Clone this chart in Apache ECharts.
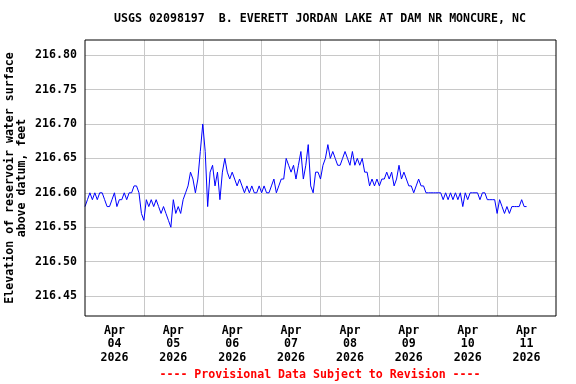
<!DOCTYPE html>
<html>
<head>
<meta charset="utf-8">
<script src="https://cdn.jsdelivr.net/npm/echarts@6/dist/echarts.min.js"></script>
<style>html,body{margin:0;padding:0;background:#fff}#c{width:576px;height:384px}</style>
</head>
<body>
<div id="c"></div>
<script>
// Hourly gage-height values (ft) starting Apr 04 2026 00:00
const elevation = [
  // Apr 04
  216.58,216.59,216.60,216.59,216.60,216.59,216.60,216.60,216.59,216.58,216.58,216.59,
  216.60,216.58,216.59,216.59,216.60,216.59,216.60,216.60,216.61,216.61,216.60,216.57,
  // Apr 05
  216.56,216.59,216.58,216.59,216.58,216.59,216.58,216.57,216.58,216.57,216.56,216.55,
  216.59,216.57,216.58,216.57,216.59,216.60,216.61,216.63,216.62,216.60,216.62,216.66,
  // Apr 06
  216.70,216.66,216.58,216.63,216.64,216.61,216.63,216.59,216.63,216.65,216.63,216.62,
  216.63,216.62,216.61,216.62,216.61,216.60,216.61,216.60,216.61,216.60,216.60,216.61,
  // Apr 07
  216.60,216.61,216.60,216.60,216.61,216.62,216.60,216.61,216.62,216.62,216.65,216.64,
  216.63,216.64,216.62,216.64,216.66,216.62,216.64,216.67,216.61,216.60,216.63,216.63,
  // Apr 08
  216.62,216.64,216.65,216.67,216.65,216.66,216.65,216.64,216.64,216.65,216.66,216.65,
  216.64,216.66,216.64,216.65,216.64,216.65,216.63,216.63,216.61,216.62,216.61,216.62,
  // Apr 09
  216.61,216.62,216.62,216.63,216.62,216.63,216.61,216.62,216.64,216.62,216.63,216.62,
  216.61,216.61,216.60,216.61,216.62,216.61,216.61,216.60,216.60,216.60,216.60,216.60,
  // Apr 10
  216.60,216.60,216.59,216.60,216.59,216.60,216.59,216.60,216.59,216.60,216.58,216.60,
  216.59,216.60,216.60,216.60,216.60,216.59,216.60,216.60,216.59,216.59,216.59,216.59,
  // Apr 11
  216.57,216.59,216.58,216.57,216.58,216.57,216.58,216.58,216.58,216.58,216.59,216.58,216.58
];
const dayLabels = ['Apr\n04\n2026','Apr\n05\n2026','Apr\n06\n2026','Apr\n07\n2026',
                   'Apr\n08\n2026','Apr\n09\n2026','Apr\n10\n2026','Apr\n11\n2026'];
const titleText = 'USGS 02098197  B. EVERETT JORDAN LAKE AT DAM NR MONCURE, NC';
const yAxisTitle = 'Elevation of reservoir water surface\nabove datum, feet';
const footerText = '---- Provisional Data Subject to Revision ----';

const FONT = '"DejaVu Sans Mono", "Liberation Mono", monospace';
const hours = elevation.map((v, i) => i);
const seriesData = hours.map((h, i) => [h, elevation[i]]);

const chart = echarts.init(document.getElementById('c'), null, {renderer: 'canvas'});
chart.setOption({
  animation: false,
  backgroundColor: '#fff',
  grid: {left: 85, right: 20, top: 40, bottom: 68, show: true, borderColor: '#000', borderWidth: 1,
         backgroundColor: 'transparent', containLabel: false, outerBoundsMode: 'none', z: 5},
  graphic: [
    {type: 'text', x: 320, y: 19, style: {text: titleText, fill: '#000', font: 'bold 11.6px ' + FONT, align: 'center', verticalAlign: 'middle'}},
    {type: 'text', x: 320, y: 375, style: {text: footerText, fill: '#ff0000', font: 'bold 11.6px ' + FONT, align: 'center', verticalAlign: 'middle'}}
  ],
  xAxis: [
    {type: 'value', min: 0, max: 192, interval: 24, position: 'bottom',
     axisLine: {show: false}, axisTick: {show: false}, axisLabel: {show: false},
     splitLine: {show: true, showMinLine: false, showMaxLine: false, lineStyle: {color: '#c8c8c8', width: 1}}},
    {type: 'category', data: dayLabels, boundaryGap: true, position: 'bottom',
     axisLine: {show: false}, axisTick: {show: false}, splitLine: {show: false},
     axisLabel: {show: true, interval: 0, margin: 8, color: '#000', fontFamily: FONT, fontWeight: 'bold', fontSize: 11.6, lineHeight: 13.5}}
  ],
  yAxis: {
    type: 'value', min: 216.421, max: 216.822, splitNumber: 8,
    name: yAxisTitle, nameLocation: 'middle', nameRotate: 90, nameGap: 57, nameMoveOverlap: false,
    nameTextStyle: {color: '#000', fontFamily: FONT, fontWeight: 'bold', fontSize: 11.6, lineHeight: 12},
    axisLine: {show: false}, axisTick: {show: false},
    axisLabel: {show: true, margin: 8, color: '#000', fontFamily: FONT, fontWeight: 'bold', fontSize: 11.6,
      showMinLabel: false, showMaxLabel: false,
      formatter: v => {
        const r = Math.round(v * 100) / 100;
        return Math.abs(Math.round(r * 20) - r * 20) < 1e-6 ? r.toFixed(2) : '';
      }},
    splitLine: {show: true, showMinLine: false, showMaxLine: false, lineStyle: {color: '#c8c8c8', width: 1}}
  },
  series: [{
    type: 'line', xAxisIndex: 0, data: seriesData, showSymbol: false, symbol: 'none',
    lineStyle: {color: '#0000ff', width: 1}, itemStyle: {color: '#0000ff'}
  }]
});
</script>
</body>
</html>
